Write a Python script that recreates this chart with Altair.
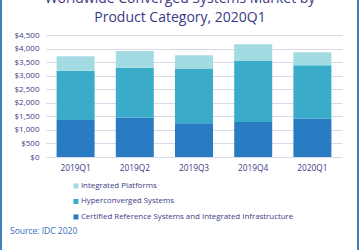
import altair as alt
import pandas as pd

quarters = ["2019Q1", "2019Q2", "2019Q3", "2019Q4", "2020Q1"]
categories = [
    "Integrated Platforms",
    "Hyperconverged Systems",
    "Certified Reference Systems and Integrated Infrastructure",
]
certified = [1369, 1453, 1248, 1295, 1416]
hyperconverged = [1809, 1835, 2018, 2250, 1971]
integrated = [539, 624, 488, 613, 477]
colors = ["#a3dbe3", "#3aacca", "#2a7cc2"]
title_lines = ["Worldwide Converged Systems Market by", "Product Category, 2020Q1"]
source_note = ["Source: IDC 2020"]

rows = []
for series, vals, rank in [(categories[2], certified, 0),
                           (categories[1], hyperconverged, 1),
                           (categories[0], integrated, 2)]:
    for q, v in zip(quarters, vals):
        rows.append({"quarter": q, "category": series, "value": v, "rank": rank})
df = pd.DataFrame(rows)

navy = "#3b3a86"
font = "Open Sans"

bars = alt.Chart(df).mark_bar(size=38).encode(
    x=alt.X("quarter:N", sort=quarters, title=None,
            axis=alt.Axis(labelAngle=0, ticks=False, domain=False,
                          labelFontSize=8.3, labelColor=navy, labelPadding=6,
                          labelFont=font)),
    y=alt.Y("value:Q", title=None, scale=alt.Scale(domain=[0, 4500]),
            axis=alt.Axis(values=list(range(0, 4501, 500)), format="$,.0f",
                          ticks=False, domain=False, gridColor="#d9d9ea",
                          labelFontSize=8, labelColor=navy, labelPadding=7,
                          labelFont=font)),
    color=alt.Color("category:N", sort=categories,
                    scale=alt.Scale(domain=categories, range=colors),
                    legend=alt.Legend(title=None, orient="none", legendX=26,
                                      legendY=147, symbolType="square",
                                      symbolSize=25, labelFontSize=7.9,
                                      labelColor=navy, labelFont=font,
                                      rowPadding=6.5, padding=0, labelOffset=1,
                                      labelLimit=400)),
    order=alt.Order("rank:Q"),
)

title_df = pd.DataFrame({"line": title_lines, "ty": [-36, -17]})
title = alt.Chart(title_df).mark_text(
    align="center", baseline="middle", fontSize=14, font=font, color=navy
).encode(text="line:N", x=alt.value(134), y=alt.Y("ty:Q", scale=None))

source = alt.Chart(pd.DataFrame({"note": source_note})).mark_text(
    align="left", baseline="middle", fontSize=8.5, color="#2f6db5", font=font
).encode(text="note:N", x=alt.value(-36), y=alt.value(196))

edges = alt.Chart(pd.DataFrame({"e": [-45, 312]})).mark_rule(
    color="#3f80bf", strokeWidth=2
).encode(x=alt.X("e:Q", scale=None), y=alt.value(-40), y2=alt.value(220))

chart = alt.layer(bars, title, source, edges).properties(
    width=296, height=122,
    autosize=alt.AutoSizeParams(type="none"),
    padding={"left": 46, "top": 35, "right": 17, "bottom": 93},
).configure_view(stroke=None)

chart.save("out.html", embed_options={"renderer": "svg", "actions": False})
